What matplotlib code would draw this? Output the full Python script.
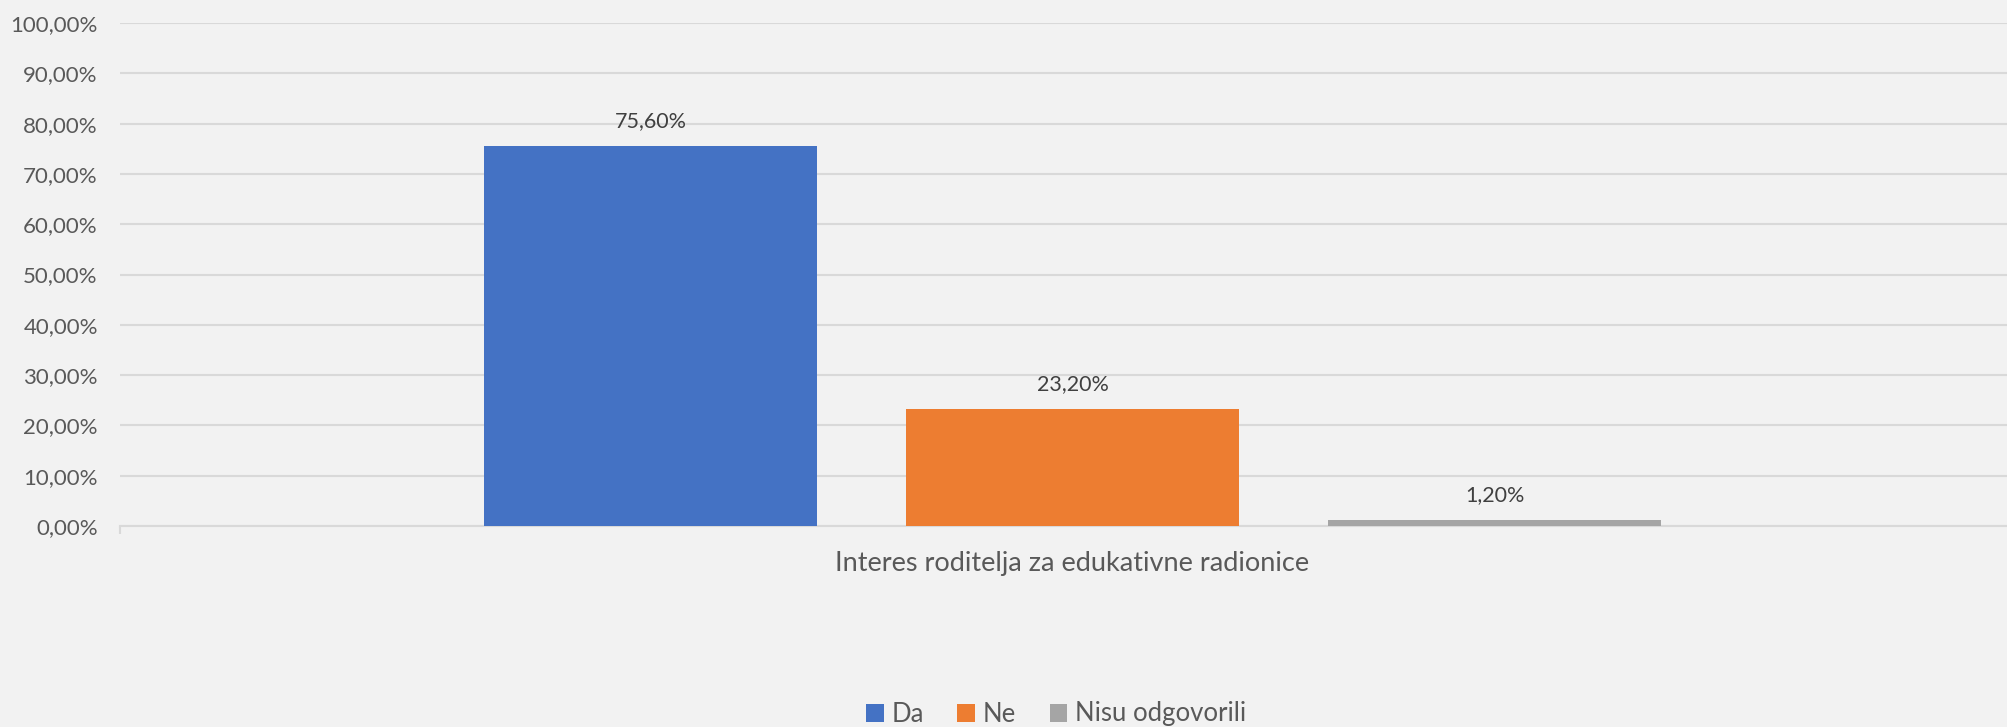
import matplotlib
matplotlib.use("Agg")
import matplotlib.pyplot as plt
import numpy as np
from matplotlib.ticker import FuncFormatter

plt.rcParams['font.family'] = ['Lato', 'DejaVu Sans']

# Data
category = "Interes roditelja za edukativne radionice"
series_names = ["Da", "Ne", "Nisu odgovorili"]
series_values = [75.60, 23.20, 1.20]
series_colors = ["#4472C4", "#ED7D31", "#A5A5A5"]
y_ticks = np.arange(0, 101, 10)

BG = "#F2F2F2"
GRID = "#D9D9D9"

fig = plt.figure(figsize=(20.07, 7.27), dpi=100, facecolor=BG)
ax = fig.add_axes([120/2007, 1-526/727, (2025-120)/2007, (526-23)/727])
ax.set_facecolor(BG)

bar_w = 333/1905
spacing = 422/1905
offsets = (np.arange(len(series_values)) - 1) * spacing
for off, v, c, n in zip(offsets, series_values, series_colors, series_names):
    b = ax.bar(0 + off, v, width=bar_w, color=c, label=n, zorder=3)
    ax.annotate(f"{v:.2f}%".replace('.', ','), (0 + off, v), xytext=(0, 15),
                textcoords='offset pixels', ha='center', va='bottom',
                fontsize=15.5, color='#404040')

ax.set_xlim(-0.5, 0.5)
ax.set_ylim(0, 100)
ax.set_yticks(y_ticks)
ax.yaxis.set_major_formatter(FuncFormatter(lambda v, p: f"{v:.2f}%".replace('.', ',')))
ax.tick_params(axis='y', length=0, pad=16, labelsize=16, labelcolor='#595959')
ax.grid(axis='y', color=GRID, linewidth=1.5, zorder=0)
ax.set_axisbelow(True)

ax.set_xticks([0])
ax.set_xticklabels([category])
ax.tick_params(axis='x', length=0, pad=18, labelsize=19.5, labelcolor='#595959')
# category boundary tick marks
ax.set_xticks([-0.5, 0.5], minor=True)
ax.tick_params(axis='x', which='minor', length=6, width=1.5, color=GRID)

for s in ['top', 'right', 'left']:
    ax.spines[s].set_visible(False)
ax.spines['bottom'].set_color(GRID)
ax.spines['bottom'].set_linewidth(1.5)

leg = fig.legend(loc='center', bbox_to_anchor=(1056/2007, 1-714/727), ncol=3,
                 frameon=False, fontsize=18.5, handlelength=0.7, handleheight=0.7,
                 handletextpad=0.3, columnspacing=1.3, labelcolor='#595959')

fig.savefig("out.png", dpi=100, facecolor=BG)
